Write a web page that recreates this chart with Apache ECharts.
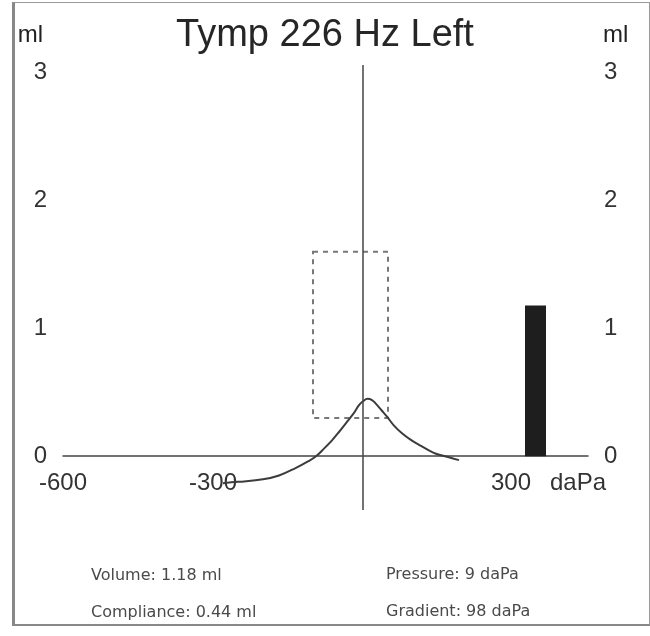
<!DOCTYPE html>
<html>
<head>
<meta charset="utf-8">
<script src="https://cdn.jsdelivr.net/npm/echarts@6/dist/echarts.min.js"></script>
<style>
html,body{margin:0;padding:0;background:#fff;}
#chart{width:650px;height:636px;}
#frame{position:absolute;left:12px;top:2px;width:634px;height:621px;border:1px solid #999;border-left:3px solid #888;border-bottom:2px solid #888;pointer-events:none;}
</style>
</head>
<body>
<div id="chart"></div>
<div id="frame"></div>
<script>
// tympanogram curve, pressure (daPa) vs compliance (ml)
var pressure   = [-280, -250, -200, -168, -134, -110, -94, -78, -62, -48, -34, -18, -8, 0, 9, 18, 26, 37, 48, 62, 78, 95, 112, 130, 146, 170, 192];
var compliance = [-0.21, -0.2, -0.18, -0.15, -0.09, -0.04, 0, 0.06, 0.125, 0.19, 0.26, 0.34, 0.40, 0.43, 0.45, 0.44, 0.41, 0.36, 0.31, 0.24, 0.18, 0.13, 0.09, 0.05, 0.02, -0.005, -0.03];
// ear canal volume bar
var volumeBar = [[345, 1.18]];
// normal range box
var boxPressure = [-100, 50];
var boxCompliance = [0.3, 1.6];
// tick labels
var xTicks = [-600, -300, 300];
var yTicks = [0, 1, 2, 3];
// results
var results = ['Volume: 1.18 ml', 'Compliance: 0.44 ml', 'Pressure: 9 daPa', 'Gradient: 98 daPa'];

var curveData = [];
for (var i = 0; i < pressure.length; i++) {
	curveData.push([pressure[i], compliance[i]]);
}

var chart = echarts.init(document.getElementById('chart'));
var txt = {fontFamily: 'DejaVu Sans', fontSize: 16, color: '#4a4a4a', fontWeight: 'normal'};
var tick = {fontFamily: 'Liberation Sans', fontSize: 24, color: '#333'};
var option = {
	backgroundColor: '#fff',
	animation: false,
	title: [
		{text: 'Tymp 226 Hz Left', left: 'center', top: 12, textStyle: {fontFamily: 'Liberation Sans', fontSize: 38, color: '#262626', fontWeight: 'normal'}},
		{text: results[0], left: 86, top: 563, textStyle: txt},
		{text: results[1], left: 86, top: 600, textStyle: txt},
		{text: results[2], left: 381, top: 562, textStyle: txt},
		{text: results[3], left: 381, top: 599, textStyle: txt}
	],
	grid: {left: 63, right: 62, top: 65, bottom: 126},
	xAxis: {
		type: 'value', min: -600, max: 450,
		position: 'bottom', offset: -54,
		splitLine: {show: false},
		axisTick: {show: false},
		axisLine: {onZero: false, lineStyle: {color: '#444', width: 1.5}},
		axisLabel: {
			customValues: xTicks, margin: 15,
			fontFamily: tick.fontFamily, fontSize: tick.fontSize, color: tick.color,
			formatter: function(v){
				return v === 300 ? '{sp| }300{g| }daPa' : String(v);
			},
			rich: {sp: {width: 71}, g: {width: 19}}
		}
	},
	yAxis: [
		{
			type: 'value', min: -0.42, max: 3.06, position: 'left',
			name: 'ml', nameLocation: 'end', nameGap: 30,
			nameTextStyle: {fontFamily: 'Liberation Sans', fontSize: 24, color: '#222', align: 'right', verticalAlign: 'middle', padding: [0, 20, 0, 0]},
			splitLine: {show: false}, axisTick: {show: false},
			axisLine: {show: false, onZero: false},
			axisLabel: {customValues: yTicks, margin: 16, fontFamily: tick.fontFamily, fontSize: tick.fontSize, color: tick.color}
		},
		{
			type: 'value', min: -0.42, max: 3.06, position: 'right',
			name: 'ml', nameLocation: 'end', nameGap: 30,
			nameTextStyle: {fontFamily: 'Liberation Sans', fontSize: 24, color: '#222', align: 'left', verticalAlign: 'middle', padding: [0, 0, 0, 15]},
			splitLine: {show: false}, axisTick: {show: false},
			axisLine: {show: false, onZero: false},
			axisLabel: {customValues: yTicks, margin: 16, fontFamily: tick.fontFamily, fontSize: tick.fontSize, color: tick.color}
		}
	],
	series: [
		{
			type: 'line', data: curveData, smooth: 0.4, showSymbol: false,
			lineStyle: {color: '#3c3c3c', width: 2},
			markLine: {
				silent: true, symbol: ['none', 'none'], label: {show: false},
				lineStyle: {color: '#444', width: 1.5, type: 'solid'},
				data: [{xAxis: 0}]
			},
			markArea: {
				silent: true,
				itemStyle: {color: 'rgba(0,0,0,0)', borderColor: '#777', borderWidth: 2, borderType: [5, 5]},
				data: [[{coord: [boxPressure[0], boxCompliance[1]]}, {coord: [boxPressure[1], boxCompliance[0]]}]]
			}
		},
		{
			type: 'bar', data: volumeBar, barWidth: 21,
			itemStyle: {color: '#1e1e1e'}
		}
	]
};
chart.setOption(option);
</script>
</body>
</html>
